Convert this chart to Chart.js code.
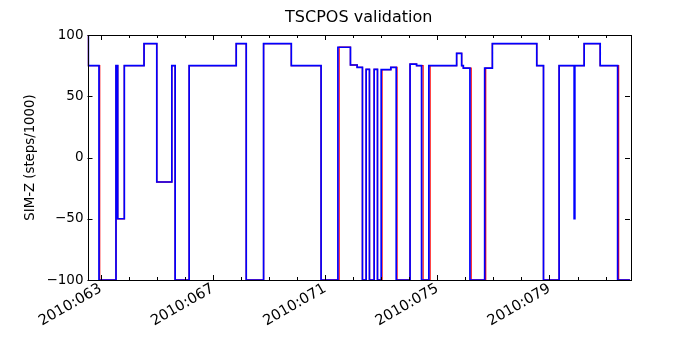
<html>
<head>
<title>TSCPOS validation</title>
<script src="https://cdn.jsdelivr.net/npm/chart.js@4.4.1/dist/chart.umd.min.js"></script>
<style>
  body { margin: 0; background: #fff; }
  #wrap { width: 700px; height: 350px; }
</style>
</head>
<body>
<div id="wrap"><canvas id="myChart" width="700" height="350"></canvas></div>
<script>
// day of year 2010 where the value changes, and the new value (steps/1000)
var blueDays = [62.53, 62.56, 62.939, 63.546, 63.607, 63.843, 64.546, 65.0, 65.536, 65.654,
  66.154, 67.832, 68.189, 68.807, 69.796, 70.857, 71.457, 71.904, 72.143, 72.332,
  72.464, 72.582, 72.75, 72.868, 73.0, 73.343, 73.536, 74.029, 74.261, 74.439,
  74.7, 75.689, 75.868, 75.929, 76.164, 76.689, 76.964, 78.546, 78.786, 79.343,
  79.879, 79.904, 80.236, 80.807, 81.429, 81.868];
var blueVals = [100, 75, -100, 75, -50, 75, 93, -20, 75, -100,
  75, 93, -100, 93, 75, -100, 90, 75.5, 73.5, -100,
  72, -100, 72, -100, 71.7, 73.6, -100, 76.3, 75, -100,
  75, 85, 75, 73, -100, 73, 93, 75, -100, 75,
  -50, 75, 93, 75, -100, -100];

var redDays = [62.53, 62.56, 62.964, 63.546, 63.607, 63.843, 64.546, 65.0, 65.536, 65.654,
  66.154, 67.832, 68.189, 68.807, 69.796, 70.857, 71.5, 71.904, 72.143, 72.332,
  72.464, 72.582, 72.75, 72.868, 73.029, 73.343, 73.564, 74.029, 74.261, 74.493,
  74.743, 75.689, 75.868, 75.929, 76.207, 76.725, 76.964, 78.546, 78.786, 79.343,
  80.236, 80.807, 81.464, 81.868];
var redVals = [100, 75, -100, 75, -50, 75, 93, -20, 75, -100,
  75, 93, -100, 93, 75, -100, 90, 75.5, 73.5, -100,
  72, -100, 72, -100, 71.7, 73.6, -100, 76.3, 75, -100,
  75, 85, 75, 73, -100, 73, 93, 75, -100, 75,
  93, 75, -100, -100];

var xMin = 62.53, xMax = 81.87;
var majorDays = [63, 67, 71, 75, 79];
var yTicks = [-100, -50, 0, 50, 100];

function toPoints(days, vals) {
  var pts = [];
  for (var i = 0; i < days.length; i++) pts.push({ x: days[i], y: vals[i] });
  return pts;
}

// matplotlib-like frame with inward ticks on all four sides
var frameTicks = {
  id: 'frameTicks',
  afterDatasetsDraw: function (chart) {
    var ctx = chart.ctx, a = chart.chartArea;
    var xs = chart.scales.x, ys = chart.scales.y;
    ctx.save();
    ctx.strokeStyle = '#000';
    ctx.lineWidth = 1;
    ctx.beginPath();
    for (var d = Math.ceil(xMin); d <= xMax; d++) {
      var px = Math.round(xs.getPixelForValue(d)) + 0.5;
      var len = majorDays.indexOf(d) >= 0 ? 5 : 3;
      ctx.moveTo(px, a.bottom); ctx.lineTo(px, a.bottom - len);
      ctx.moveTo(px, a.top); ctx.lineTo(px, a.top + len);
    }
    for (var i = 0; i < yTicks.length; i++) {
      var py = Math.round(ys.getPixelForValue(yTicks[i])) + 0.5;
      ctx.moveTo(a.left, py); ctx.lineTo(a.left + 5, py);
      ctx.moveTo(a.right, py); ctx.lineTo(a.right - 5, py);
    }
    ctx.stroke();
    ctx.strokeRect(Math.round(a.left) + 0.5, Math.round(a.top) + 0.5,
      Math.round(a.right - a.left), Math.round(a.bottom - a.top));
    ctx.restore();
  }
};

var font = "'DejaVu Sans', sans-serif";
var ctx = document.getElementById('myChart').getContext('2d');
var myChart = new Chart(ctx, {
  type: 'line',
  data: {
    datasets: [
      { label: 'blue', data: toPoints(blueDays, blueVals), borderColor: '#0000ff',
        borderWidth: 1.7, stepped: 'before', pointRadius: 0, fill: false, order: 0 },
      { label: 'red', data: toPoints(redDays, redVals), borderColor: '#ff0000',
        borderWidth: 1.3, stepped: 'before', pointRadius: 0, fill: false, order: 1 }
    ]
  },
  options: {
    responsive: false,
    animation: false,
    layout: { padding: { left: 0, right: 70, top: 0, bottom: 0 } },
    plugins: {
      legend: { display: false },
      tooltip: { enabled: false },
      title: {
        display: true, text: 'TSCPOS validation', color: '#000', fullSize: false,
        font: { family: font, size: 16, weight: 'normal', lineHeight: 1.2 },
        padding: { top: 8, bottom: 7.8 }
      }
    },
    scales: {
      x: {
        type: 'linear', min: xMin, max: xMax,
        grid: { display: false, drawTicks: false },
        border: { display: false },
        afterBuildTicks: function (s) { s.ticks = majorDays.map(function (v) { return { value: v }; }); },
        afterFit: function (s) { s.height = 70; },
        ticks: {
          color: '#000', font: { family: font, size: 14.6 }, padding: 0, labelOffset: 0,
          minRotation: 30, maxRotation: 30, autoSkip: false,
          callback: function (v) { return '2010:0' + v; }
        }
      },
      y: {
        min: -100, max: 100,
        grid: { display: false, drawTicks: false },
        border: { display: false },
        afterBuildTicks: function (s) { s.ticks = yTicks.map(function (v) { return { value: v }; }); },
        afterFit: function (s) { s.width = 87.5; },
        ticks: {
          color: '#000', font: { family: font, size: 13.5 }, padding: 4,
          callback: function (v) { return String(v).replace('-', '\u2212'); }
        },
        title: {
          display: true, text: 'SIM-Z (steps/1000)', color: '#000',
          font: { family: font, size: 13.3 }, padding: { top: 23, bottom: 0 }
        }
      }
    }
  },
  plugins: [frameTicks]
});
</script>
</body>
</html>
